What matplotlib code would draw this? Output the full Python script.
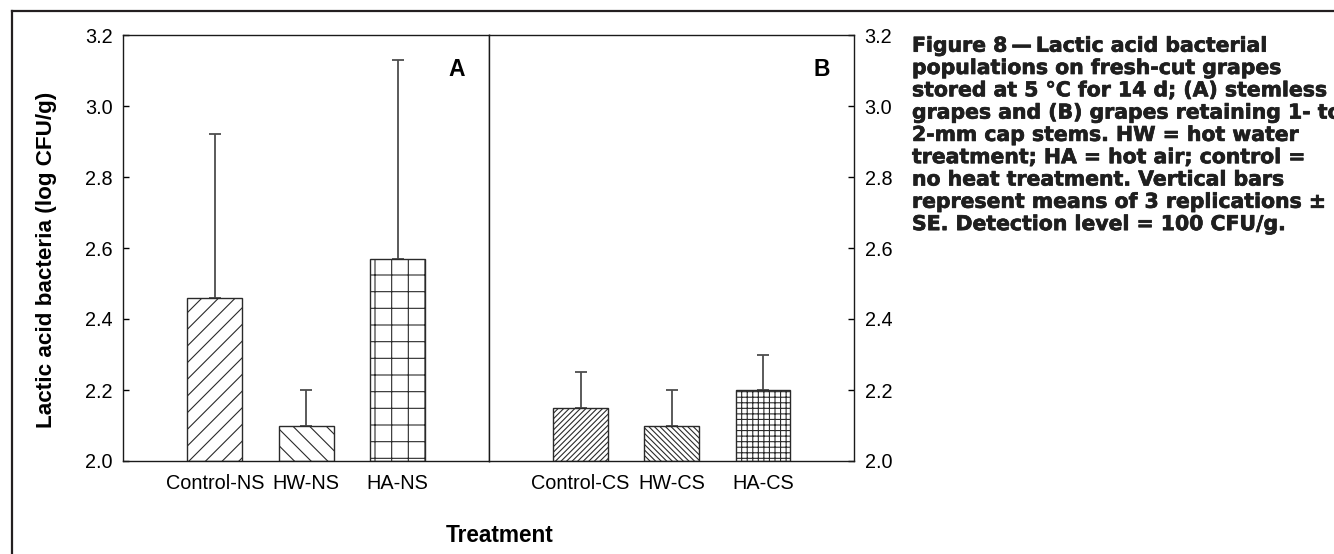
import matplotlib
matplotlib.use("Agg")
import matplotlib.pyplot as plt
from matplotlib.lines import Line2D
import matplotlib.patheffects as pe
import numpy as np

# ---- data ----
labels_a = ["Control-NS", "HW-NS", "HA-NS"]
means_a = [2.46, 2.10, 2.57]
se_a = [0.46, 0.10, 0.56]
hatch_a = ["//", "\\\\", "+"]

labels_b = ["Control-CS", "HW-CS", "HA-CS"]
means_b = [2.15, 2.10, 2.20]
se_b = [0.10, 0.10, 0.10]
hatch_b = ["//////", "\\\\\\\\\\\\", "+++"]

yticks = [2.0, 2.2, 2.4, 2.6, 2.8, 3.0, 3.2]
ytick_labels = ["2.0", "2.2", "2.4", "2.6", "2.8", "3.0", "3.2"]

caption_lines = [
    "Figure 8\u2009\u2014\u2009Lactic acid bacterial",
    "populations on fresh-cut grapes",
    "stored at 5 \u00b0C for 14 d; (A) stemless",
    "grapes and (B) grapes retaining 1- to",
    "2-mm cap stems. HW = hot water",
    "treatment; HA = hot air; control =",
    "no heat treatment. Vertical bars",
    "represent means of 3 replications \u00b1",
    "SE. Detection level = 100 CFU/g.",
]

W, H = 1334, 554
plt.rcParams['font.family'] = ['Liberation Sans', 'DejaVu Sans']
plt.rcParams['hatch.linewidth'] = 0.8

fig = plt.figure(figsize=(W / 100, H / 100), dpi=100)

def px(x0, y0, x1, y1):
    return [x0 / W, 1 - y1 / H, (x1 - x0) / W, (y1 - y0) / H]

axA = fig.add_axes(px(123.3, 35, 489.3, 461))
axB = fig.add_axes(px(489.3, 35, 854.3, 461))

edge = '#2a2a2a'
errc = '#4d4d4d'
tick_fs = 14.3

def draw(ax, labels, means, se, hatches):
    x = np.arange(len(labels))
    base = 2.0
    for xi, m, h in zip(x, means, hatches):
        ax.bar(xi, m - base, bottom=base, width=0.6, color='white',
               edgecolor=edge, hatch=h, linewidth=1.0, zorder=2)
    ax.errorbar(x, means, yerr=[np.zeros(len(se)), se], fmt='none',
                ecolor=errc, elinewidth=1.3, capsize=4.6, capthick=1.3, zorder=1.5)
    ax.set_xlim(-1, 3)
    ax.set_ylim(2.0, 3.2)
    ax.set_xticks(x)
    ax.set_xticklabels(labels, fontsize=tick_fs)
    ax.tick_params(axis='x', length=0, pad=9.5)
    for s in ax.spines.values():
        s.set_linewidth(1.0)
        s.set_color('#1a1a1a')

draw(axA, labels_a, means_a, se_a, hatch_a)
draw(axB, labels_b, means_b, se_b, hatch_b)

axA.set_yticks(yticks)
axA.set_yticklabels(ytick_labels, fontsize=tick_fs)
axA.tick_params(axis='y', direction='in', length=4.5, width=1.0, pad=7.5, left=True, right=False)

axB.yaxis.tick_right()
axB.set_yticks(yticks)
axB.set_yticklabels(ytick_labels, fontsize=tick_fs)
axB.tick_params(axis='y', direction='in', length=4.5, width=1.0, pad=7.5, left=False, right=True)

axA.text(457 / W, 1 - 69 / H, "A", transform=fig.transFigure, fontsize=16.5,
         fontweight='bold', ha='center', va='center')
axB.text(822 / W, 1 - 69 / H, "B", transform=fig.transFigure, fontsize=16.5,
         fontweight='bold', ha='center', va='center')

fig.text(46.4 / W, 1 - 259.7 / H, "Lactic acid bacteria (log CFU/g)", rotation=90,
         fontsize=16.2, fontweight='bold', ha='center', va='center')
fig.text(500 / W, 1 - 536 / H, "Treatment", fontsize=16.3, fontweight='bold',
         ha='center', va='center')

cap_color = '#1f1f1f'
for i, line in enumerate(caption_lines):
    fig.text(912 / W, 1 - (51.7 + 22.3 * i) / H, line, fontsize=14.7,
             fontweight='bold', family='DejaVu Sans', color=cap_color,
             ha='left', va='baseline',
             path_effects=[pe.withStroke(linewidth=0.5, foreground=cap_color)])

# outer frame (top and left edges)
fc = '#231f20'
fig.add_artist(Line2D([11.8 / W, 1.0], [1 - 10.7 / H, 1 - 10.7 / H],
                      transform=fig.transFigure, color=fc, linewidth=1.6))
fig.add_artist(Line2D([11.8 / W, 11.8 / W], [1 - 10.7 / H, 0.0],
                      transform=fig.transFigure, color=fc, linewidth=1.6))

fig.savefig("out.png", dpi=100)
